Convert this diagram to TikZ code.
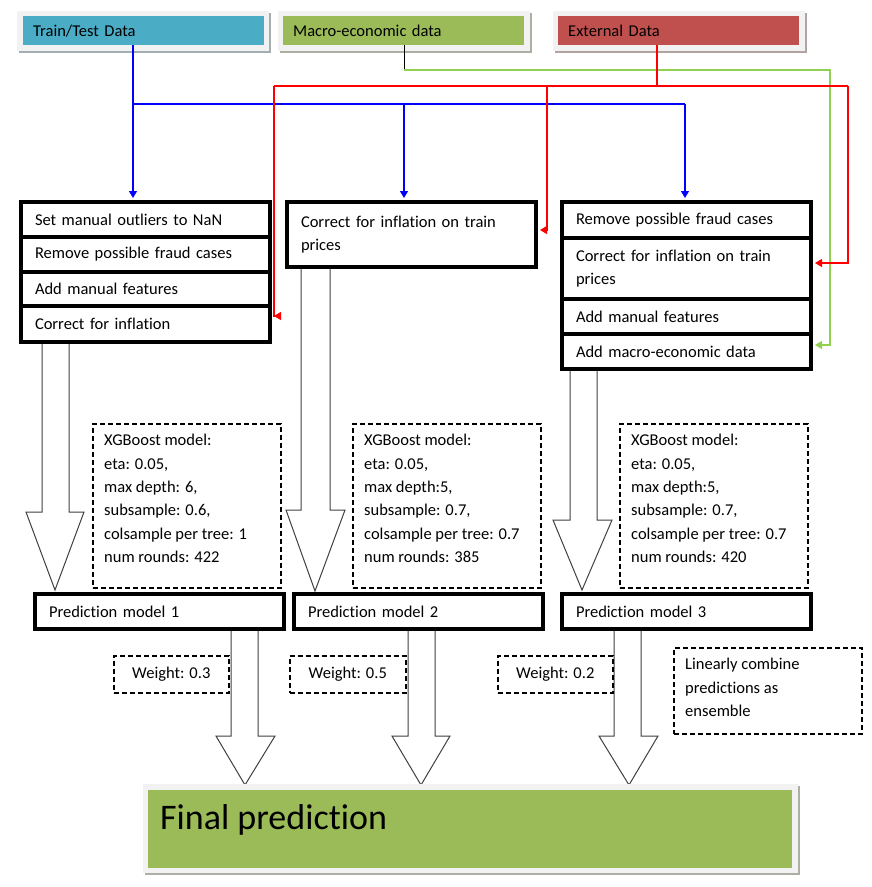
\documentclass[tikz,border=0pt]{standalone}
\usepackage{fontspec}
\setmainfont[Ligatures={NoCommon}]{Carlito}
\usetikzlibrary{arrows.meta}
\definecolor{cblue}{HTML}{4BACC6}
\definecolor{cgreen}{HTML}{9BBB59}
\definecolor{cred}{HTML}{C0504D}
\definecolor{cframe}{HTML}{F2F2F2}
\definecolor{glink}{HTML}{92D050}
\newcommand\blockarr[8]{\draw[blk] (#1,#3) -- (#1,#4) -- (#5,#4) -- (#7,#8) -- (#6,#4) -- (#2,#4) -- (#2,#3);}
\tikzset{
  basefont/.style={font=\fontsize{16.5}{23.4}\selectfont, text=black},
  topbox/.style={basefont, anchor=north west, inner xsep=10pt, inner ysep=0pt, text width=221pt, align=left, minimum width=241pt, minimum height=29pt},
  rowbox/.style={basefont, draw=black, line width=4pt, fill=white, anchor=north west, inner xsep=14pt, inner ysep=0pt, text width=221pt, align=left, minimum width=249pt},
  dashbox/.style={draw=black, line width=1.6pt, dash pattern=on 5pt off 3pt, fill=white, anchor=north west, inner sep=0pt},
  wbox/.style={basefont, draw=black, line width=1.6pt, dash pattern=on 5pt off 3pt, fill=white, anchor=north west, inner xsep=12pt, inner ysep=0pt, align=left},
  ptext/.style={basefont, anchor=north west, inner sep=0pt, align=left},
  blk/.style={fill=white, draw=black!75, line width=1pt, line join=miter},
  tip/.style={-{Triangle[width=8pt,length=7pt]}},
  blueline/.style={draw=blue, line width=1.2pt},
  redline/.style={draw=red, line width=1.2pt},
  greenline/.style={draw=glink, line width=1.2pt},
}
\begin{document}
\begin{tikzpicture}[x=1pt,y=-1pt]
\fill[white] (0,0) rectangle (871,887);
\path[use as bounding box] (0,0) rectangle (871,887);

% ---------- top data boxes ----------
\fill[cblue!30!black!40] (19,13) rectangle (271,53);
\fill[cframe] (17,11) rectangle (269,51);
\node[topbox, fill=cblue] (tt) at (23,16) {Train/Test Data};
\fill[cgreen!30!black!40] (280,13) rectangle (532,53);
\fill[cframe] (278,11) rectangle (530,51);
\node[topbox, fill=cgreen] (mac) at (283,16) {Macro-economic data};
\fill[cred!30!black!40] (555,13) rectangle (807,53);
\fill[cframe] (553,11) rectangle (805,51);
\node[topbox, fill=cred] (ext) at (558,16) {External Data};

% ---------- block arrows ----------
\blockarr{42}{69}{340}{512}{26}{84}{55}{590}
\blockarr{301}{330}{265}{510}{286}{345}{315}{591}
\blockarr{570}{597}{367}{520}{553}{612}{582}{590}
\blockarr{231}{258}{627}{736}{216}{275}{245}{785}
\blockarr{408}{435}{627}{736}{392}{450}{421}{785}
\blockarr{614}{641}{627}{736}{599}{658}{629}{785}

% ---------- process boxes ----------
\node[rowbox, minimum height=35pt] (r11) at (19,200) {Set manual outliers to NaN};
\node[rowbox, minimum height=35pt] (r12) at (19,235) {Remove possible fraud cases};
\node[rowbox, minimum height=34pt] (r13) at (19,270) {Add manual features};
\node[rowbox, minimum height=36pt] (r14) at (19,304) {Correct for inflation};

\node[rowbox, minimum height=65pt] (r21) at (285,200) {Correct for inflation on train\\prices};

\node[rowbox, minimum height=36pt] (r31) at (560,200) {Remove possible fraud cases};
\node[rowbox, minimum height=61pt] (r32) at (560,236) {Correct for inflation on train\\prices};
\node[rowbox, minimum height=35pt] (r33) at (560,297) {Add manual features};
\node[rowbox, minimum height=35pt] (r34) at (560,332) {Add macro-economic data};

% ---------- XGBoost boxes ----------
\node[dashbox, minimum width=188pt, minimum height=164pt] (xg1) at (92,423) {};
\node[ptext] (xg1t) at (104,434) {XGBoost model:\\eta: 0.05,\\max depth: 6,\\subsample: 0.6,\\colsample per tree: 1\\num rounds: 422};
\node[dashbox, minimum width=188pt, minimum height=164pt] (xg2) at (352,423) {};
\node[ptext] (xg2t) at (364,434) {XGBoost model:\\eta: 0.05,\\max depth:5,\\subsample: 0.7,\\colsample per tree: 0.7\\num rounds: 385};
\node[dashbox, minimum width=188pt, minimum height=164pt] (xg3) at (619,423) {};
\node[ptext] (xg3t) at (631,434) {XGBoost model:\\eta: 0.05,\\max depth:5,\\subsample: 0.7,\\colsample per tree: 0.7\\num rounds: 420};

% ---------- prediction boxes ----------
\node[rowbox, minimum height=35pt] (pm1) at (33,592) {Prediction model 1};
\node[rowbox, minimum height=35pt] (pm2) at (292,592) {Prediction model 2};
\node[rowbox, minimum height=35pt] (pm3) at (560,592) {Prediction model 3};

% ---------- weights ----------
\node[wbox, minimum width=115pt, minimum height=37pt] (w1) at (113,655) {Weight: 0.3};
\node[wbox, minimum width=116pt, minimum height=37pt] (w2) at (289,655) {Weight: 0.5};
\node[wbox, minimum width=115pt, minimum height=37pt] (w3) at (497,655) {Weight: 0.2};
\node[dashbox, minimum width=188pt, minimum height=86pt] (lc) at (673,647) {};
\node[ptext] (lct) at (685,658) {Linearly combine\\predictions as\\ensemble};

% ---------- final prediction ----------
\fill[cgreen!30!black!40] (145,786) rectangle (800,875);
\fill[cframe] (143,784) rectangle (798,873);
\node[fill=cgreen, anchor=north west, minimum width=644pt, minimum height=78pt, inner sep=0pt] (fin) at (148,790) {};
\node[anchor=base west, inner sep=0pt, font=\fontsize{36}{40}\selectfont] (fint) at (160,829) {Final prediction};

% ---------- connectors ----------
\coordinate (bs) at (133,104);
\coordinate (bm) at (404,104);
\coordinate (be) at (685,104);
\draw[blueline] (tt.south -| bs) -- (bs) -- (be);
\draw[blueline, tip, shorten >=2pt] (bs) -- (bs |- r11.north);
\draw[blueline, tip, shorten >=2pt] (bm) -- (bm |- r21.north);
\draw[blueline, tip, shorten >=2pt] (be) -- (be |- r31.north);

\coordinate (g1) at (404,70);
\coordinate (g2) at (830,70);
\coordinate (g3) at (830,345);
\draw[black, line width=0.8pt] (mac.south -| g1) -- (g1);
\draw[greenline, tip, shorten >=2pt] (g1) -- (g2) -- (g3) -- (g3 -| r34.east);

\coordinate (rt) at (657,86);
\coordinate (ra) at (274,86);
\coordinate (rb) at (547,86);
\coordinate (rc) at (848,86);
\coordinate (ra2) at (274,316);
\coordinate (rb2) at (547,230);
\coordinate (rc2) at (848,263);
\draw[redline] (ext.south -| rt) -- (rt);
\draw[redline] (ra) -- (rc);
\draw[redline, tip, shorten >=2pt] (ra) -- (ra2) -- (ra2 -| r14.east);
\draw[redline, tip, shorten >=2pt] (rb) -- (rb2) -- (rb2 -| r21.east);
\draw[redline, tip, shorten >=2pt] (rc) -- (rc2) -- (rc2 -| r32.east);
\end{tikzpicture}
\end{document}
